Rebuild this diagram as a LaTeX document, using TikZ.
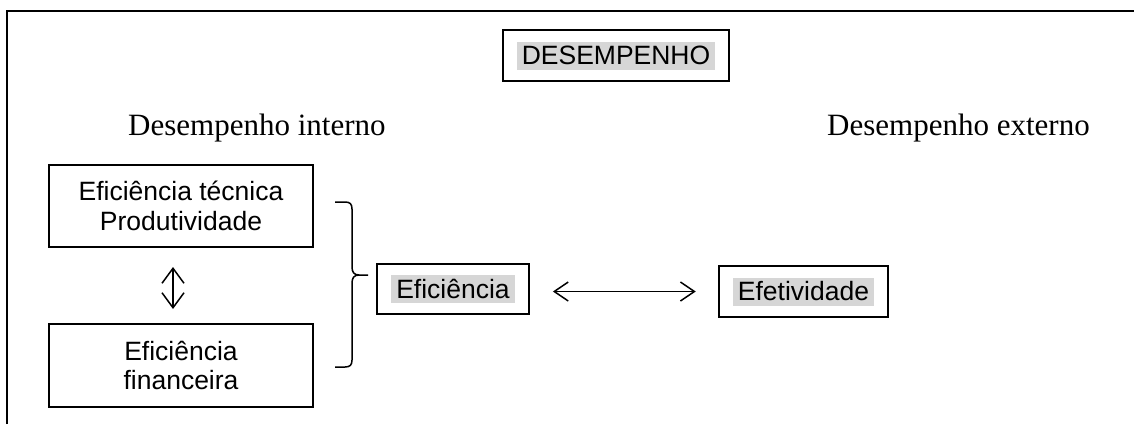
\documentclass[tikz,border=0pt]{standalone}
\usepackage{fontspec}
\setmainfont{Liberation Serif}
\newfontfamily\arialf{Liberation Sans}
\usetikzlibrary{arrows.meta,fit}
\definecolor{hlgray}{RGB}{214,214,214}
\begin{document}
\begin{tikzpicture}[x=1pt,y=-1pt,
  frame/.style={line width=2pt},
  box/.style={draw, line width=2pt, inner sep=0pt},
  boxtxt/.style={inner sep=0pt, align=center, font=\arialf\fontsize{26.5}{29.5}\selectfont},
  hl/.style={fill=hlgray, inner xsep=5pt, inner ysep=0pt, text height=23pt, text depth=5pt, font=\arialf\fontsize{26.5}{30}\selectfont},
  hlbox/.style={draw, line width=2pt, inner xsep=14pt, inner ysep=11pt},
  lbl/.style={inner sep=0pt, anchor=base west, font=\fontsize{31}{36}\selectfont},
  vdbl/.style={line width=1.5pt, {Straight Barb[length=15pt,width=22pt]}-{Straight Barb[length=15pt,width=22pt]}},
  hdbl/.style={line width=1.5pt, {Straight Barb[length=14pt,width=19pt]}-{Straight Barb[length=14pt,width=19pt]}},
  brace/.style={line width=1.5pt}
]
\useasboundingbox (0,0) rectangle (1134,424);
% outer frame (open at right and bottom)
\draw[frame] (7,424) -- (7,11) -- (1134,11);

% title
\node[hl] (tdes) at (616,55.5) {DESEMPENHO};
\node[hlbox, fit=(tdes)] (des) {};

% section labels
\node[lbl] (lint) at (128,135) {Desempenho interno};
\node[lbl] (lext) at (827,135) {Desempenho externo};

% left boxes
\node[box, minimum width=264pt, minimum height=82pt] (b1) at (181,206) {};
\node[boxtxt] (t1) at (b1) {Eficiência técnica\\Produtividade};
\node[box, minimum width=264pt, minimum height=83pt] (b2) at (181,365.5) {};
\node[boxtxt] (t2) at (b2) {Eficiência\\financeira};

\draw[vdbl, shorten <=19pt, shorten >=14pt] ([xshift=-8pt]b1.south) -- ([xshift=-8pt]b2.north);

% brace
\coordinate (brtop) at (335,202);
\coordinate (brtip) at (368,275);
\coordinate (brbot) at (335,367);
\draw[brace] (brtop) -- (345,202) .. controls (350,202) and (352,204) .. (352,209)
  -- (352,267) .. controls (352,272) and (354,275) .. (359,275) -- (brtip);
\draw[brace] (359,275) .. controls (354,275) and (352,278) .. (352,283)
  -- (352,360) .. controls (352,365) and (350,367) .. (345,367) -- (brbot);

% efficiency / effectiveness
\node[hl] (teff) at (453,289) {Eficiência};
\node[hlbox, fit=(teff)] (eff) {};
\node[hl] (tefe) at (803.5,291.5) {Efetividade};
\node[hlbox, fit=(tefe)] (efe) {};

\draw[hdbl, shorten <=23pt, shorten >=22pt] (eff.east |- efe.west) -- (efe.west);
\end{tikzpicture}
\end{document}
